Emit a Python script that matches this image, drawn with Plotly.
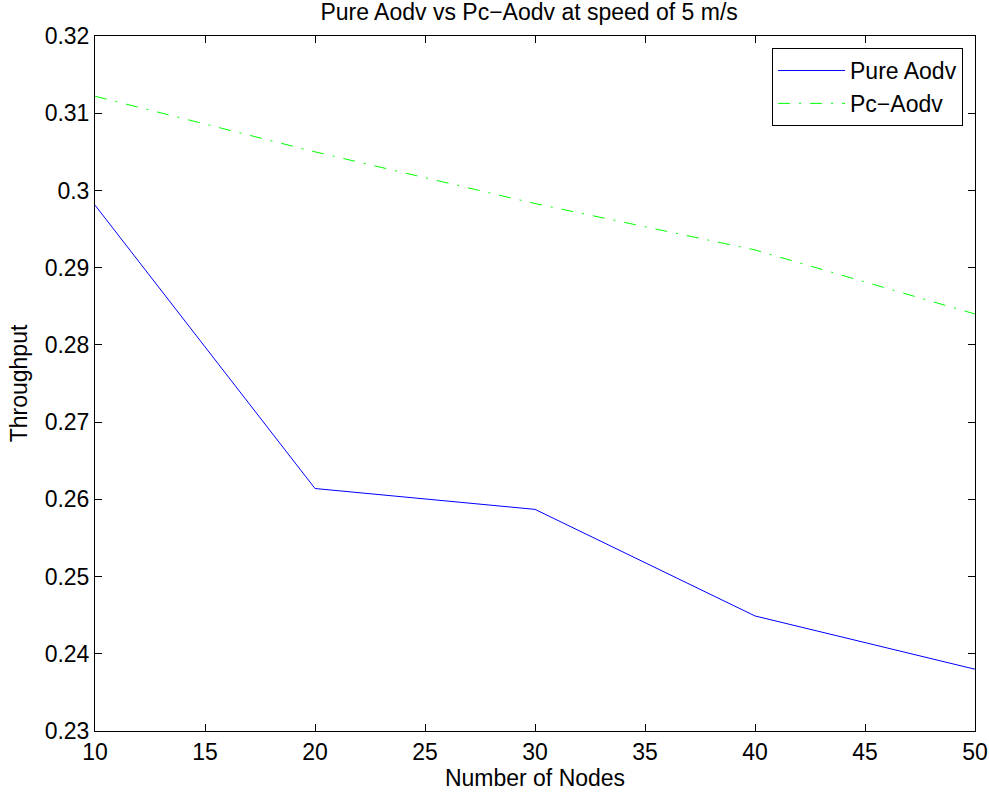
import plotly.graph_objects as go

nodes = [10, 20, 30, 40, 50]
pure_aodv = [0.2981, 0.2614, 0.2587, 0.2449, 0.2380]
pc_aodv = [0.3122, 0.3050, 0.2983, 0.2923, 0.2840]

x_ticks = [10, 15, 20, 25, 30, 35, 40, 45, 50]
y_ticks = [0.23, 0.24, 0.25, 0.26, 0.27, 0.28, 0.29, 0.30, 0.31, 0.32]
y_ticktext = ["0.23", "0.24", "0.25", "0.26", "0.27", "0.28", "0.29", "0.3", "0.31", "0.32"]

FONT = "Liberation Sans, Arial, Helvetica, sans-serif"
FS = 23

fig = go.Figure()
fig.add_trace(go.Scatter(x=nodes, y=pure_aodv, mode="lines", name="Pure Aodv",
                         line=dict(color="#0000ff", width=1)))
fig.add_trace(go.Scatter(x=nodes, y=pc_aodv, mode="lines", name="Pc\u2212Aodv",
                         line=dict(color="#00ff00", width=1, dash="12px,9px,2px,9px")))

axis_common = dict(showgrid=False, zeroline=False, showline=True, linecolor="black",
                   linewidth=1, mirror="ticks", ticks="inside", ticklen=7,
                   tickcolor="black", tickwidth=1, automargin=False,
                   tickfont=dict(family=FONT, size=FS, color="black"))

fig.update_xaxes(range=[10, 50], tickvals=x_ticks, ticktext=[str(v) for v in x_ticks],
                 title=dict(text="Number of Nodes", font=dict(family=FONT, size=FS, color="black"),
                            standoff=6),
                 **axis_common)
fig.update_yaxes(range=[0.23, 0.32], tickvals=y_ticks, ticktext=y_ticktext,
                 title=dict(text="Throughput", font=dict(family=FONT, size=FS, color="black"),
                            standoff=10),
                 **axis_common)

fig.update_layout(
    width=989, height=796,
    margin=dict(l=95, r=14, t=36, b=65),
    paper_bgcolor="white", plot_bgcolor="white",
    font=dict(family=FONT, size=FS, color="black"),
    title=dict(text="Pure Aodv vs Pc\u2212Aodv at speed of 5 m/s", x=0.535, xanchor="center",
               y=0.985, yanchor="middle", yref="container",
               font=dict(family=FONT, size=FS, color="black")),
    legend=dict(x=0.9864, y=0.9827, xanchor="right", yanchor="top",
                bordercolor="black", borderwidth=1, bgcolor="white",
                font=dict(family=FONT, size=FS, color="black"),
                itemwidth=67, tracegroupgap=0),
    showlegend=True,
)

fig.write_html("out.html")
